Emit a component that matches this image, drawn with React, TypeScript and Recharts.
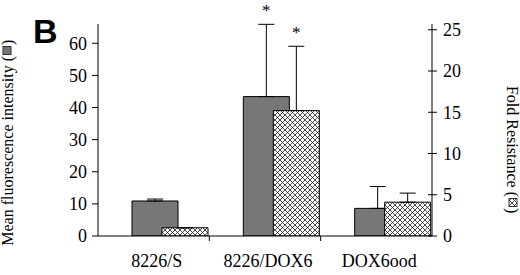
import { BarChart, Bar, XAxis, YAxis, ErrorBar, LabelList } from "recharts";

const categories = ["8226/S", "8226/DOX6", "DOX6ood"];
const meanFluorescence = [10.9, 43.4, 8.6];
const meanFluorescenceErr = [0.6, 22.5, 6.8];
const foldResistance = [1.0, 15.2, 4.1];
const foldResistanceErr = [0, 7.8, 1.1];
const significant = [false, true, false];
const leftTicks = [0, 10, 20, 30, 40, 50, 60];
const rightTicks = [0, 5, 10, 15, 20, 25];

const FONT = '"Liberation Serif", "Times New Roman", serif';
const GRAY = "#777777";
const W = 520;
const H = 275;
const LEFT_W = 98;
const RIGHT_W = 88;
const BAND = (W - LEFT_W - RIGHT_W) / categories.length;

const data = categories.map((name, i) => ({
  name,
  mfi: meanFluorescence[i],
  mfiErr: [0, meanFluorescenceErr[i]],
  fold: foldResistance[i],
  foldErr: [0, foldResistanceErr[i]],
}));

// asterisk placed above the error bar, scaled from the bar's own pixel height
function starLabel(errs: number[]) {
  return (props: any) => {
    const { x, y, width, height, value, index } = props;
    if (!significant[index] || !value) return null;
    const pxPerUnit = Number(height) / Number(value);
    const top = Number(y) - errs[index] * pxPerUnit;
    return (
      <text
        x={Number(x) + Number(width) / 2}
        y={top - 8.5}
        textAnchor="middle"
        fontFamily={FONT}
        fontSize={17}
        fill="#000"
      >
        *
      </text>
    );
  };
}

function CategoryTick(props: any) {
  const { x, y, payload, index } = props;
  return (
    <g>
      <text x={x + 3} y={y + 31} textAnchor="middle" fontFamily={FONT} fontSize={18} fill="#000">
        {payload.value}
      </text>
      {index < categories.length - 1 && (
        <line x1={x + BAND / 2} x2={x + BAND / 2} y1={y} y2={y + 5} stroke="#000" />
      )}
    </g>
  );
}

function LeftTick(props: any) {
  const { x, y, payload } = props;
  return (
    <text x={x} y={y} dy="0.35em" textAnchor="end" fontFamily={FONT} fontSize={18} fill="#000">
      {payload.value}
    </text>
  );
}

function RightTick(props: any) {
  const { x, y, payload } = props;
  return (
    <g>
      <line x1={x - 4} x2={x + 5} y1={y} y2={y} stroke="#000" />
      <text x={x + 11} y={y} dy="0.35em" textAnchor="start" fontFamily={FONT} fontSize={18} fill="#000">
        {payload.value}
      </text>
    </g>
  );
}

function Overlay() {
  return (
    <svg
      width={W}
      height={H}
      style={{ position: "absolute", left: 0, top: 0, pointerEvents: "none" }}
    >
      <defs>
        <pattern id="xhatch" patternUnits="userSpaceOnUse" width={5} height={5}>
          <rect width={5} height={5} fill="#fff" />
          <path
            d="M-1,1 L1,-1 M0,5 L5,0 M4,6 L6,4 M-1,4 L1,6 M0,0 L5,5 M4,-1 L6,1"
            stroke="#111"
            strokeWidth={0.75}
          />
        </pattern>
      </defs>
      <text x={33} y={43} fontFamily='"Liberation Sans", Arial, sans-serif' fontWeight="bold" fontSize={34}>
        B
      </text>
      <g transform="translate(13,146) rotate(-90)" fontFamily={FONT} fontSize={16} fill="#000">
        <text x={90} y={0} textAnchor="end">Mean fluorescence intensity (</text>
        <rect x={91.5} y={-10} width={8} height={8} fill={GRAY} stroke="#333" strokeWidth={1} />
        <text x={101} y={0}>)</text>
      </g>
      <g transform="translate(507,153) rotate(90)" fontFamily={FONT} fontSize={16} fill="#000">
        <text x={44} y={0} textAnchor="end">Fold Resistance (</text>
        <rect x={45.5} y={-10} width={8} height={8} fill="url(#xhatch)" stroke="#333" strokeWidth={1} />
        <text x={55} y={0}>)</text>
      </g>
    </svg>
  );
}

export default function App() {
  return (
    <div style={{ position: "absolute", left: 0, top: 0, width: W, height: H, background: "#fff" }}>
      <BarChart
        width={W}
        height={H}
        data={data}
        margin={{ top: 24, right: 0, bottom: 0, left: 0 }}
        barSize={46}
        barGap={-16}
      >
        <XAxis xAxisId="bars" dataKey="name" hide height={0} padding={{ left: 16, right: -16 }} />
        <XAxis
          xAxisId="cat"
          dataKey="name"
          height={39}
          axisLine={{ stroke: "#000" }}
          tickLine={false}
          tickSize={0}
          tickMargin={0}
          tick={<CategoryTick />}
          interval={0}
        />
        <YAxis
          yAxisId="left"
          width={LEFT_W}
          domain={[0, 66]}
          ticks={leftTicks}
          allowDataOverflow
          axisLine={{ stroke: "#000" }}
          tickLine={{ stroke: "#000" }}
          tickSize={6}
          tickMargin={5}
          tick={<LeftTick />}
        />
        <YAxis
          yAxisId="right"
          orientation="right"
          width={RIGHT_W}
          domain={[0, 25.7]}
          ticks={rightTicks}
          allowDataOverflow
          axisLine={{ stroke: "#000" }}
          tickLine={false}
          tickSize={0}
          tickMargin={0}
          tick={<RightTick />}
        />
        <Bar
          xAxisId="bars"
          yAxisId="left"
          dataKey="mfi"
          fill={GRAY}
          stroke="#000"
          strokeWidth={1}
          isAnimationActive={false}
        >
          <ErrorBar dataKey="mfiErr" direction="y" width={8} stroke="#000" strokeWidth={1} />
          <LabelList dataKey="mfi" content={starLabel(meanFluorescenceErr)} />
        </Bar>
        <Bar
          xAxisId="bars"
          yAxisId="right"
          dataKey="fold"
          fill="url(#xhatch)"
          stroke="#000"
          strokeWidth={1}
          isAnimationActive={false}
        >
          <ErrorBar dataKey="foldErr" direction="y" width={8} stroke="#000" strokeWidth={1} />
          <LabelList dataKey="fold" content={starLabel(foldResistanceErr)} />
        </Bar>
      </BarChart>
      <Overlay />
    </div>
  );
}
